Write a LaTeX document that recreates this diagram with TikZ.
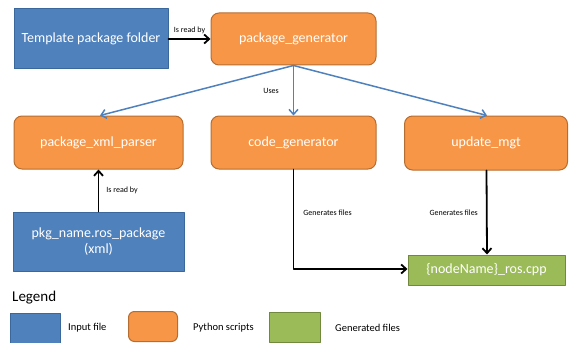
\documentclass[tikz,border=0pt]{standalone}
\usepackage{fontspec}
\setmainfont{Carlito}
\usepackage{tikz}
\usetikzlibrary{arrows.meta}
\definecolor{InBlue}{HTML}{4F81BD}
\definecolor{InBlueLine}{HTML}{3A679C}
\definecolor{PyOrange}{HTML}{F79646}
\definecolor{PyOrangeLine}{HTML}{B66D31}
\definecolor{GenGreen}{HTML}{9BBB59}
\definecolor{GenGreenLine}{HTML}{71893F}
\newcommand{\MainColor}{black}

\tikzset{
  infile/.style={draw=InBlueLine,fill=InBlue,line width=1pt,text=white,
    font=\fontsize{14}{16}\selectfont,align=center,inner sep=0pt},
  pyscript/.style={draw=PyOrangeLine,fill=PyOrange,line width=1pt,text=white,
    rounded corners=8pt,font=\fontsize{14}{16}\selectfont,inner sep=0pt},
  genfile/.style={draw=GenGreenLine,fill=GenGreen,line width=1pt,text=white,
    font=\fontsize{14}{16}\selectfont,inner sep=0pt},
  lbl/.style={font=\fontsize{8}{9}\selectfont,inner sep=0pt},
  legtxt/.style={font=\fontsize{10.5}{12}\selectfont,inner sep=0pt,anchor=west},
  uses/.style={->,draw=InBlue,line width=1.5pt},
  reads/.style={->,draw=\MainColor,line width=1.8pt}
}

\begin{document}
\begin{tikzpicture}[line cap=round,line join=round,
  >={Straight Barb[length=5pt,width=9pt]},x=1pt,y=-1pt]
  \useasboundingbox (0,0) rectangle (569,342);
  % input files, scripts and output
  \node[infile,minimum width=154pt,minimum height=60pt] (tmpl) at (91,39)
    {Template package folder};
  \node[pyscript,minimum width=165pt,minimum height=52pt] (gen) at (293.5,39)
    {package\_generator};
  \node[pyscript,minimum width=169pt,minimum height=53pt] (xmlp) at (98.5,142.5)
    {package\_xml\_parser};
  \node[pyscript,minimum width=165pt,minimum height=53pt] (codegen) at (293.5,142.5)
    {code\_generator};
  \node[pyscript,minimum width=163pt,minimum height=54pt] (updmgt) at (486,143)
    {update\_mgt};
  \node[infile,minimum width=171pt,minimum height=59pt] (pkg) at (98.5,241.5)
    {pkg\_name.ros\_package\\(xml)};
  \node[genfile,minimum width=157pt,minimum height=30pt] (cpp) at (486.5,270)
    {\{nodeName\}\_ros.cpp};

  % connectors
  \draw[reads] (tmpl) -- (gen)
    node[lbl,midway,above=4pt] {Is read by};
  \draw[uses] (gen.south) -- ([xshift=1.5pt]xmlp.north);
  \draw[uses] (gen.south) -- (codegen.north)
    node[lbl,midway,left=14pt] {Uses};
  \draw[uses] (gen.south) -- ([xshift=1pt]updmgt.north);
  \draw[reads] (pkg) -- (xmlp)
    node[lbl,midway,right=7pt] {Is read by};
  \draw[reads] (codegen.south) |- ([yshift=1pt]cpp.west)
    node[lbl,pos=0.216,right=9pt] {Generates files};
  \draw[reads] ([xshift=0.5pt]updmgt.south) -- ([xshift=0.5pt]cpp.north)
    node[lbl,pos=0.5,left=8pt] {Generates files};

  % legend
  \node[font=\fontsize{15}{17}\selectfont,inner sep=0pt,anchor=west] (leg) at (12,298) {Legend};
  \node[infile,minimum width=50pt,minimum height=32pt] (legin) at (35,329) {};
  \node[legtxt] (legintxt) at (68,328) {Input file};
  \node[pyscript,minimum width=49pt,minimum height=30pt,rounded corners=6pt] (legpy) at (153,326.5) {};
  \node[legtxt] (legpytxt) at (193,328) {Python scripts};
  \node[genfile,minimum width=51pt,minimum height=30pt] (leggen) at (294.5,327) {};
  \node[legtxt] (leggentxt) at (335,328) {Generated files};
\end{tikzpicture}
\end{document}
